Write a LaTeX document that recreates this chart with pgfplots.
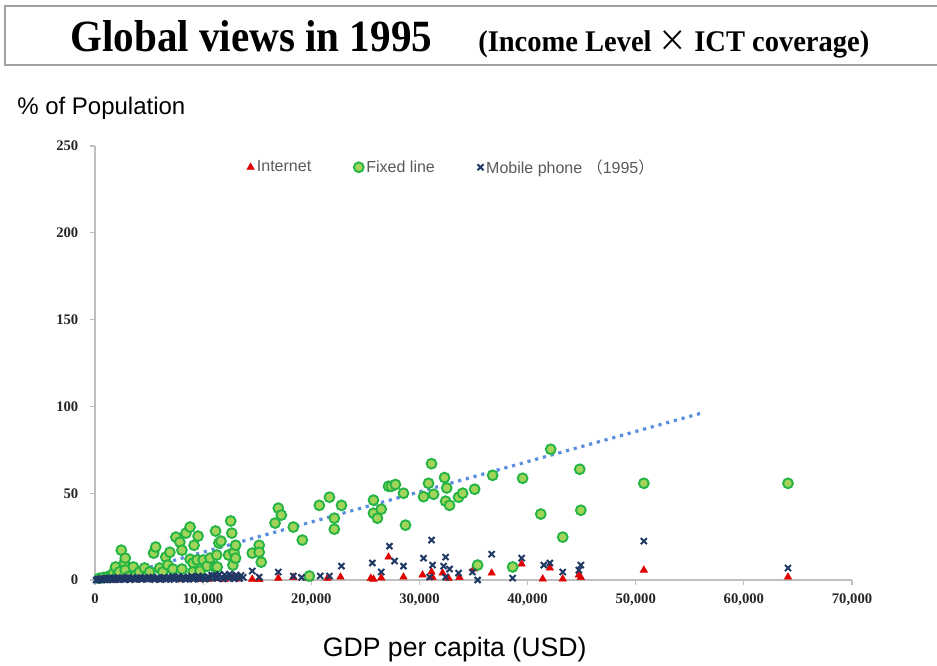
\documentclass[border=0pt]{standalone}
\usepackage{pgfplots}
\pgfplotsset{compat=1.18}
\usepackage{fontspec}
\setmainfont{Liberation Serif}
\setsansfont{Liberation Sans}
\newfontfamily\cjk{Noto Sans CJK JP}
\definecolor{internetred}{HTML}{E00000}
\definecolor{fixfill}{HTML}{A2D35A}
\definecolor{fixdraw}{HTML}{22B543}
\definecolor{mobnavy}{HTML}{1F3864}
\definecolor{trendblue}{HTML}{5B8FDD}
\definecolor{legendgray}{HTML}{595959}
\definecolor{axisgray}{HTML}{BFBFBF}
\definecolor{boxgray}{HTML}{A0A0A0}

\pgfplotstableread{
x y
2000 0
4000 0.1
6000 0.1
8000 0.2
9500 0.3
10500 0.5
11200 0.8
12000 0.4
12700 1.2
13300 0.6
14540 0.5
15185 0.3
16950 1
18340 1.5
19800 0.8
21500 1
22700 1.7
25500 1
25750 0.5
26470 1.2
27140 13.2
28525 1.7
30290 2.9
31120 4.6
31210 1.5
32140 4
32700 1
33700 1.5
35010 6.3
36680 4
39450 9.2
41400 0.6
42060 6.9
43250 0.6
44740 2.9
44925 1.5
50750 5.7
64080 1.7
}\internet

\pgfplotstableread{
x y
400 1
800 1.5
1200 2
1500 2.5
1700 4
1900 7.5
2100 3
2240 4.6
2430 17.2
2710 9.8
2800 12.6
2800 5.7
3100 2
3550 7.5
3800 3
4110 4.6
4580 6.9
4800 2.5
5050 4.6
5420 15.5
5610 19
5980 6.9
6260 4.6
6540 13.2
6730 8.6
6920 16
7200 6.3
7480 24.7
7850 21.8
8040 17.2
8040 6.3
8410 27
8790 30.5
8790 12
9070 9.8
9070 4.6
9160 20
9440 11.5
9530 25.3
9720 5.2
10000 11.5
10370 8
10650 12.6
11100 7.5
11150 28.2
11250 14.4
11300 7.5
11450 21.3
11650 22.4
12350 14.4
12550 34
12650 27
12750 8.6
12850 16
13000 20
13000 12.6
14540 15.5
15185 20
15185 16
15370 10.3
16650 32.8
16950 41.4
17230 37.4
18340 30.5
19170 23
19820 2.3
20745 43
21680 47.7
22130 35.6
22130 29.3
22790 43
25750 46
25750 38.5
26115 35.6
26470 40.8
27140 54
27415 54
27780 55
28525 50
28710 31.6
30380 48
30840 55.7
31120 67
31310 49.4
32320 59
32420 45.4
32520 53
32785 43
33620 47.7
33995 50
35105 52.3
35380 8.6
36770 60.3
38620 7.5
39540 58.6
41220 38
42140 75.3
43250 24.7
44825 63.8
44925 40.2
50750 55.7
64080 55.7
}\fixed

\pgfplotstableread{
x y
100 0
200 0
280 0.3
350 0.1
430 0.6
500 0.2
580 0.8
650 0
720 0.4
800 0.3
880 0.9
950 0.1
1020 0.6
1100 0.5
1180 1.0
1250 0.2
1330 0.7
1400 0.4
1480 1.1
1550 0.1
1630 0.8
1700 0.6
1780 1.2
1850 0.3
1930 0.9
2000 0.8
2100 1.3
2200 0.2
2300 0.9
2400 0.5
2500 1.4
2600 1
2700 0.4
2800 0.3
2900 1.2
3000 0.6
3120 1.5
3250 0.2
3380 0.9
3500 1.2
3620 0.5
3750 0.4
3880 1.4
4000 0.7
4150 1.1
4300 0.3
4450 0.9
4600 1.5
4750 0.6
4900 0.5
5050 1.3
5200 0.8
5350 1.7
5500 0.2
5650 0.9
5800 1.1
5950 0.5
6100 0.4
6250 1.2
6400 1.6
6550 0.3
6700 0.6
6850 1.4
7000 0.9
7150 1.9
7300 0.3
7450 0.8
7600 1.3
7750 2.0
7900 0.5
8050 1.1
8200 1.8
8350 0.4
8500 0.7
8650 1.5
8800 1.0
8950 2.1
9100 0.4
9250 1.2
9400 1.4
9550 2.3
9700 0.6
9850 1.5
10000 2.0
10150 0.5
10300 0.8
10450 1.9
10600 1.2
10800 2.8
11000 2.5
11150 1.4
11300 0.9
11500 3.2
11700 1.6
11850 0.6
12000 3.0
12150 2.0
12300 1.1
12450 3.4
12600 2.2
12750 1.2
12900 0.7
13050 2.9
13200 1.8
13350 0.9
13500 2.6
13700 1.5
14540 5.2
15185 1.7
16950 4.6
18340 2.3
19100 1.5
20830 2.3
21680 2.3
22790 8
25650 9.8
26470 4.6
27230 19.5
27700 10.9
28525 8
30380 12.6
30940 1.7
31120 23
31210 8.6
32230 8
32420 13.2
32785 6.3
32420 1.7
33620 4
34900 4.6
35380 0
36680 14.9
38620 1.1
39450 12.6
41500 8.6
42060 9.8
43250 4.6
44740 5.7
44925 8.6
50750 22.4
64080 6.9
}\mobile

\pgfplotstableread{
x y
800 0
56000 96
}\trend

\begin{document}
\begin{tikzpicture}[x=1pt,y=1pt]
\useasboundingbox (0,0) rectangle (702.75,498.75);
\draw[boxgray, line width=1.5pt] (3.75,450) rectangle (706,494.5);
\node[anchor=base west, inner sep=0pt] at (52.5,459.75) {\scalebox{0.92}[1]{\fontsize{33.5}{33.5}\selectfont\bfseries Global views in 1995}};
\node[anchor=base west, inner sep=0pt] at (358.5,459.75) {\scalebox{0.95}[1]{\fontsize{22.5}{22.5}\selectfont\bfseries (Income Level {\cjk\mdseries ×} ICT coverage)}};
\node[anchor=base west, inner sep=0pt] at (12.75,412.5) {\sffamily\fontsize{18}{18}\selectfont \% of Population};
\node[anchor=base, inner sep=0pt] at (341,6.75) {\sffamily\fontsize{20}{20}\selectfont GDP per capita (USD)};

\begin{axis}[
  at={(71.25pt,63.75pt)}, anchor=south west,
  scale only axis, width=567.75pt, height=325.5pt,
  xmin=0, xmax=70000, ymin=0, ymax=250,
  axis lines*=left,
  axis line style={draw=axisgray, line width=0.8pt},
  xtick={0,10000,20000,30000,40000,50000,60000,70000},
  ytick={0,50,100,150,200,250},
  tick style={draw=axisgray, line width=0.8pt},
  tick align=outside, major tick length=4pt,
  scaled x ticks=false,
  /pgf/number format/assume math mode=true,
  /pgf/number format/1000 sep={,},
  tick label style={font=\fontsize{11}{11}\selectfont\bfseries, text=black!85},
  xticklabel style={yshift=-3pt},
  yticklabel style={xshift=-5pt},
  clip=false,
  legend style={at={(0.195,0.951)}, anchor=west, draw=none, fill=none,
    font=\sffamily\fontsize{12}{12}\selectfont, text=legendgray,
    legend columns=3,
    /tikz/every even column/.append style={column sep=30pt}},
  legend cell align=left,
  legend image code/.code={\draw[mark repeat=1,#1] plot coordinates {(0.1cm,0cm)};},
]
\addplot[only marks, mark=triangle*, mark size=3.2pt, color=internetred] table {\internet};
\addlegendentry{Internet}
\addplot[only marks, mark=*, mark size=3.7pt, mark options={fill=fixfill, draw=fixdraw, line width=1.4pt}] table {\fixed};
\addlegendentry{Fixed line}
\addplot[only marks, mark=x, mark size=3.2pt, mark options={draw=mobnavy, line width=1.5pt}] table {\mobile};
\addlegendentry{Mobile phone {\cjk （}1995{\cjk ）}}
\addplot[forget plot, trendblue, line width=2.4pt, dash pattern=on 2.4pt off 3.6pt] table {\trend};
\end{axis}
\end{tikzpicture}
\end{document}
